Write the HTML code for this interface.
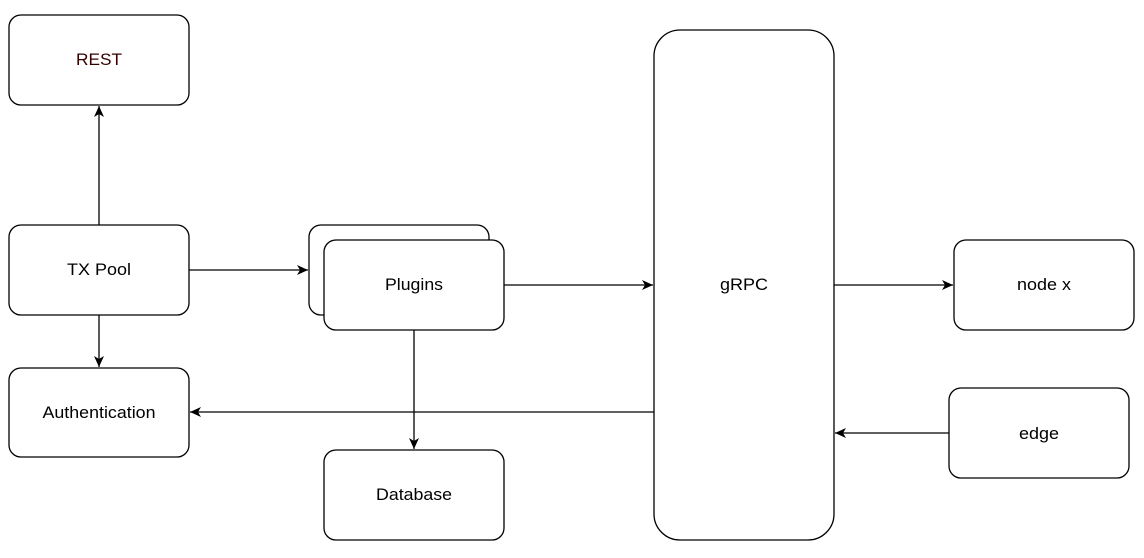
<!DOCTYPE html>
<html><head><style>html,body{margin:0;padding:0;background:#fff;}svg{display:block}</style></head>
<body>
<svg width="1144" height="558" xmlns="http://www.w3.org/2000/svg" font-family="Liberation Sans, Arial, sans-serif" font-size="17">
<defs><marker id="a" markerWidth="12" markerHeight="12" refX="11" refY="6" orient="auto" markerUnits="userSpaceOnUse"><path d="M0,1 L11,6 L0,11 L3,6 Z" fill="#000"/></marker></defs>
<g fill="#fff" stroke="#000" stroke-width="1.3">
<rect x="9" y="15" width="180" height="90" rx="12"/>
<rect x="9" y="225" width="180" height="90" rx="12"/>
<rect x="9" y="368" width="180" height="89" rx="12"/>
<rect x="309" y="225" width="180" height="90" rx="12"/>
<rect x="324" y="240" width="180" height="90" rx="12"/>
<rect x="324" y="450" width="180" height="90" rx="12"/>
<rect x="654" y="30" width="180" height="510" rx="26"/>
<rect x="954" y="240" width="180" height="90" rx="12"/>
<rect x="949" y="388" width="180" height="90" rx="12"/>
</g>
<g stroke="#000" stroke-width="1.3" marker-end="url(#a)">
<line x1="99" y1="225" x2="99" y2="106"/>
<line x1="99" y1="315" x2="99" y2="367"/>
<line x1="189" y1="270" x2="308" y2="270"/>
<line x1="504" y1="285" x2="653" y2="285"/>
<line x1="414" y1="330" x2="414" y2="449"/>
<line x1="654" y1="412" x2="190" y2="412"/>
<line x1="834" y1="285" x2="953" y2="285"/>
<line x1="949" y1="433" x2="835" y2="433"/>
</g>
<g text-anchor="middle" fill="#000">
<text x="99" y="65" fill="#300" textLength="46" lengthAdjust="spacingAndGlyphs">REST</text>
<text x="99" y="275" textLength="64" lengthAdjust="spacingAndGlyphs">TX Pool</text>
<text x="99" y="418" textLength="113" lengthAdjust="spacingAndGlyphs">Authentication</text>
<text x="414" y="290" textLength="58" lengthAdjust="spacingAndGlyphs">Plugins</text>
<text x="414" y="500" textLength="76" lengthAdjust="spacingAndGlyphs">Database</text>
<text x="744" y="290" textLength="48" lengthAdjust="spacingAndGlyphs">gRPC</text>
<text x="1044" y="290" textLength="54" lengthAdjust="spacingAndGlyphs">node x</text>
<text x="1039" y="439" textLength="40" lengthAdjust="spacingAndGlyphs">edge</text>
</g>
</svg>
</body></html>
